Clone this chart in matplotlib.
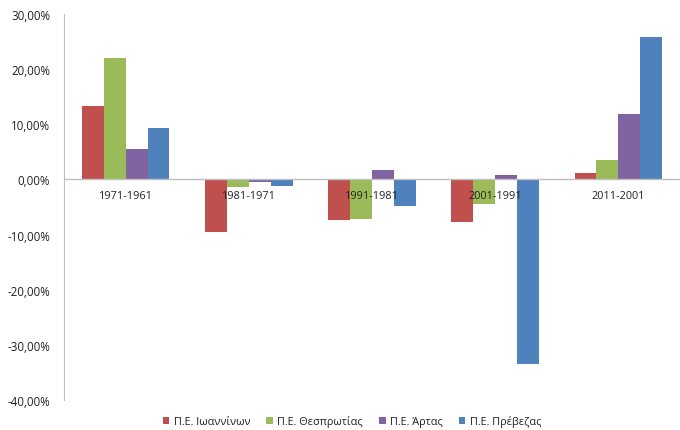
import matplotlib
matplotlib.use("Agg")
import matplotlib.pyplot as plt
import numpy as np
from matplotlib.ticker import FuncFormatter

plt.rcParams['font.family'] = ['Open Sans', 'DejaVu Sans']

periods = ["1971-1961", "1981-1971", "1991-1981", "2001-1991", "2011-2001"]
ioanninon = [13.3, -9.5, -7.4, -7.7, 1.2]
thesprotias = [22.0, -1.3, -7.1, -4.4, 3.5]
artas = [5.45, -0.5, 1.7, 0.8, 11.9]
prevezas = [9.3, -1.15, -4.85, -33.5, 25.8]

series_names = ["Π.Ε. Ιωαννίνων", "Π.Ε. Θεσπρωτίας", "Π.Ε. Άρτας", "Π.Ε. Πρέβεζας"]
series = [ioanninon, thesprotias, artas, prevezas]
colors = ["#C0504D", "#9BBB59", "#8064A2", "#4F81BD"]

fig = plt.figure(figsize=(6.8, 4.31), dpi=100)
ax = fig.add_axes([64 / 680, 1 - 401 / 431, 616 / 680, 386 / 431])

x = np.arange(len(periods))
w = 0.178
for i, (vals, c, name) in enumerate(zip(series, colors, series_names)):
    ax.bar(x + (i - 1.5) * w, vals, width=w, color=c, label=name, zorder=2)

ax.set_xlim(-0.5, len(periods) - 0.5)
ax.set_ylim(-40, 30)
ax.set_yticks(np.arange(-40, 31, 10))
ax.yaxis.set_major_formatter(FuncFormatter(lambda v, p: f"{v:.2f}%".replace(".", ",")))
ax.tick_params(axis='y', length=0, labelsize=8.3, colors="#222222", pad=10)
ax.set_xticks([])

for s in ["top", "right", "bottom"]:
    ax.spines[s].set_visible(False)
ax.spines["left"].set_color("#BFBFBF")
ax.axhline(0, color="#BFBFBF", lw=1, zorder=3)

for xi, lab in zip(x, periods):
    ax.text(xi, -3.0, lab, ha="center", va="center", fontsize=7.8, color="#222222", zorder=4)

fig.legend(loc="center", bbox_to_anchor=(352 / 680, 1 - 422 / 431), ncol=4, frameon=False,
           fontsize=7.8, handlelength=0.6, handleheight=0.6, handletextpad=0.4, columnspacing=1.5,
           labelcolor="#222222")

fig.savefig("out.png", dpi=100)
